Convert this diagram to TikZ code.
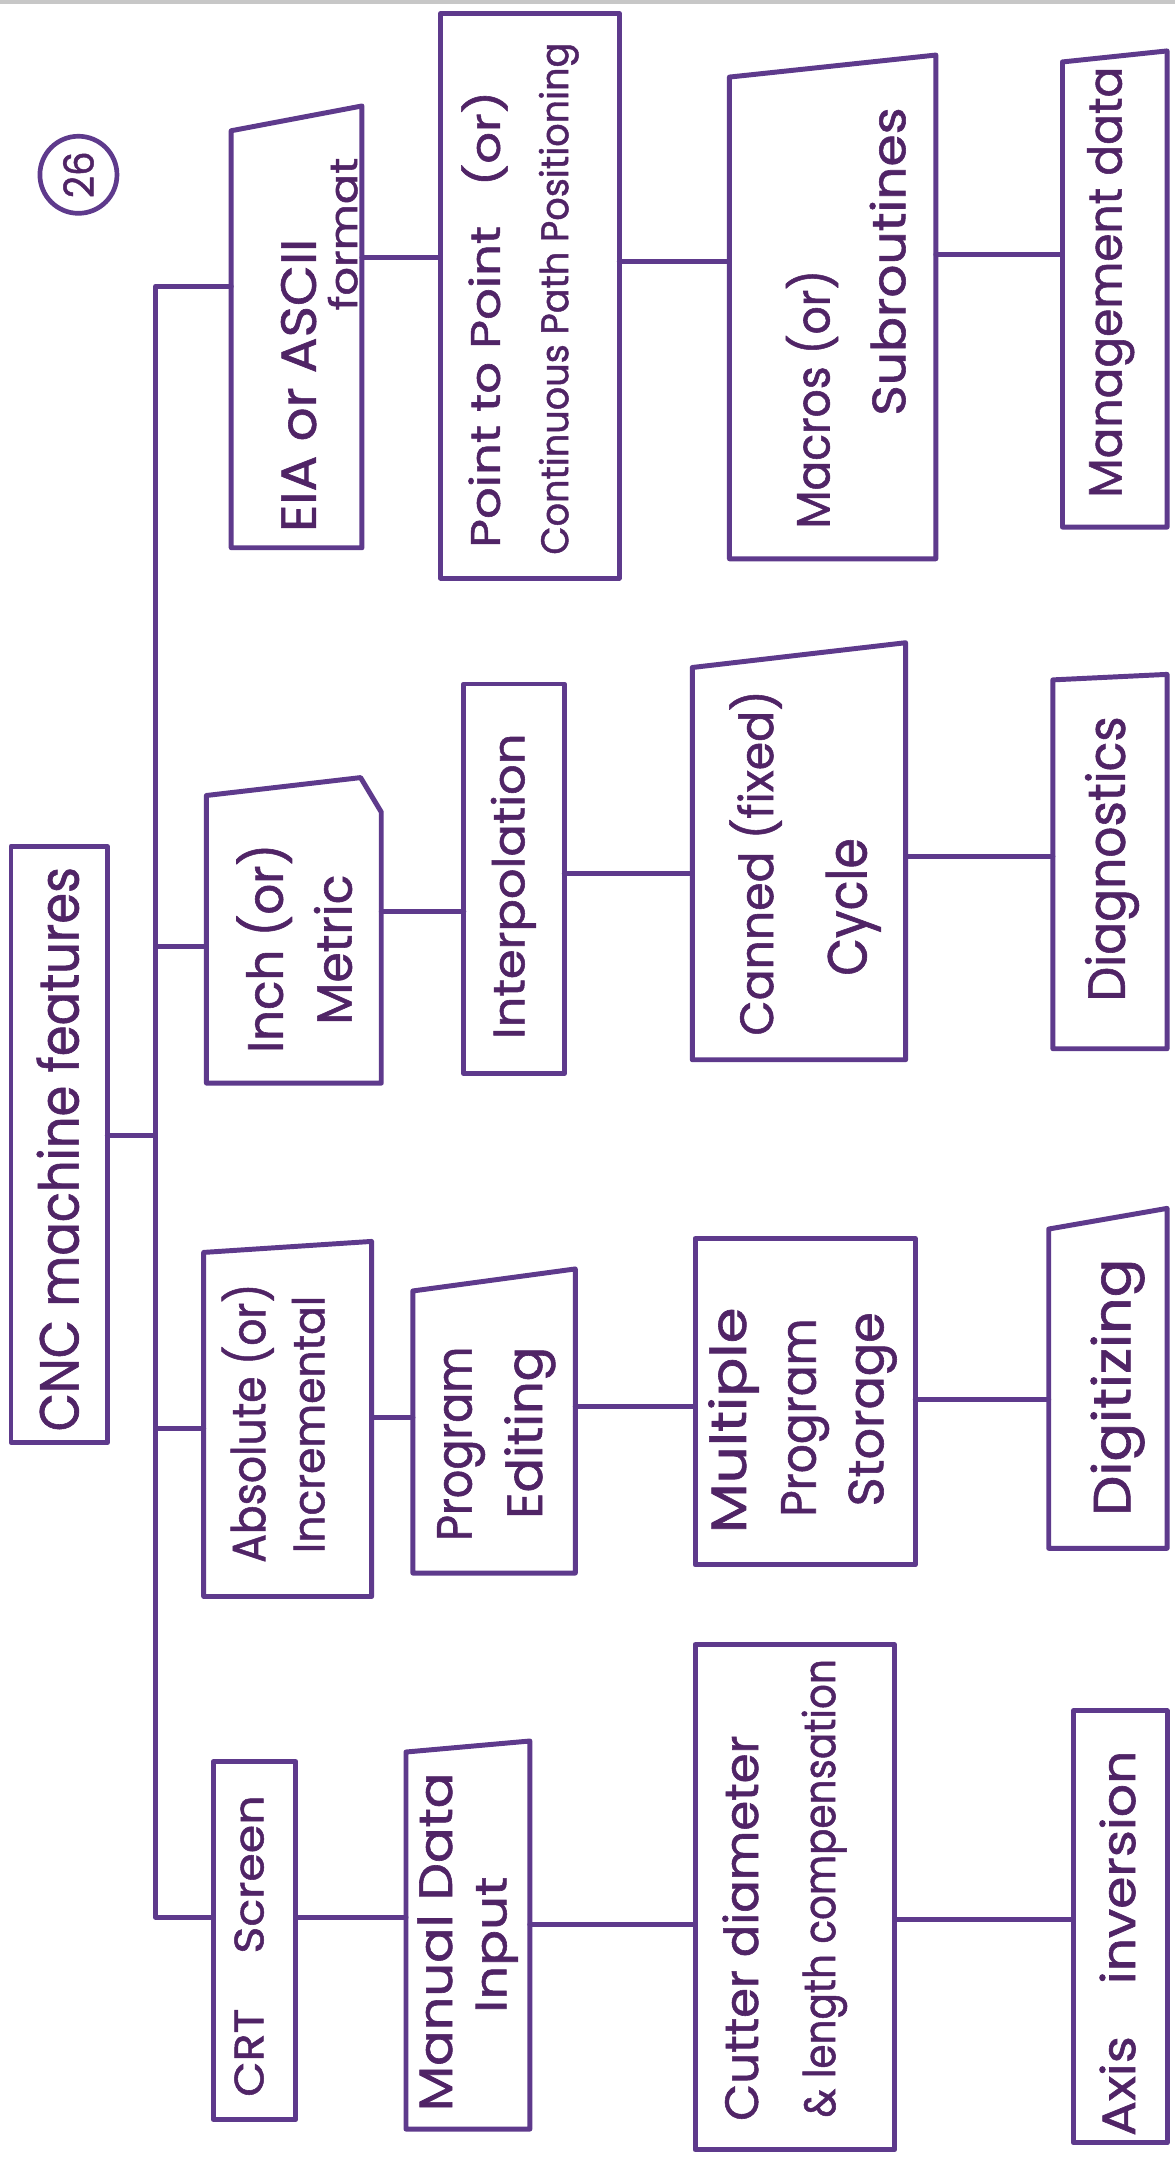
\documentclass[tikz,border=0pt]{standalone}
\usepackage{fontspec}
\setmainfont{Poppins}[FakeBold=1.2]
\usepackage{graphicx}
\usetikzlibrary{fit}
\definecolor{ink}{RGB}{94,58,140}
\definecolor{pen}{RGB}{80,36,102}
% text of a given size stretched to a given run length
\newcommand\hw[3][34]{\resizebox{#2pt}{\height}{\fontsize{#1}{#1}\selectfont #3}}
% box frame from its two corners
\newcommand\bx[5]{\node[frame, fit={(#2,#3) (#4,#5)}] (#1) {};}
% outline of a box, with the top corners dropped by #2 and #3
\newcommand\boxoutline[3]{\draw[ln] ([yshift=-#2pt]#1.north west) -- ([yshift=-#3pt]#1.north east) -- (#1.south east) -- (#1.south west) -- cycle;}
\tikzset{
  ln/.style={draw=ink, line width=3.6pt, line cap=round, line join=round},
  frame/.style={draw=none, inner sep=0pt, outer sep=0pt},
  txt/.style={text=pen, inner sep=0pt, rotate=90},
}
\begin{document}
\begin{tikzpicture}[x=1pt, y=-1pt]
\fill[white] (0,0) rectangle (854,1568);
\useasboundingbox (0,0) rectangle (854,1568);
\fill[black!22] (0,0) rectangle (854,3);

% page number
\node[circle, draw=ink, line width=3.4pt, minimum size=56pt, inner sep=0pt, text=pen, rotate=90] (pg) at (57,127) {\hw[30]{34}{26}};

% boxes
\bx{root}{8}{615}{78}{1048}
\bx{eia}{168}{77}{263}{398}
\bx{ptp}{320}{10}{450}{420}
\bx{mac}{530}{40}{680}{406}
\bx{mgt}{772}{37}{848}{383}
\bx{inch}{150}{565}{277}{787}
\bx{itp}{337}{497}{410}{780}
\bx{can}{503}{467}{658}{770}
\bx{dia}{765}{490}{848}{762}
\bx{abs}{148}{902}{270}{1160}
\bx{ped}{300}{922}{418}{1143}
\bx{mul}{505}{900}{665}{1137}
\bx{dig}{762}{878}{848}{1125}
\bx{crt}{155}{1280}{215}{1540}
\bx{man}{295}{1265}{385}{1547}
\bx{cut}{505}{1195}{650}{1562}
\bx{axi}{780}{1243}{848}{1557}

\boxoutline{root}{0}{0}
\boxoutline{eia}{18}{0}
\boxoutline{ptp}{0}{0}
\boxoutline{mac}{16}{0}
\boxoutline{mgt}{8}{0}
\draw[ln] ([yshift=-13pt]inch.north west) -- ([xshift=-15pt]inch.north east) -- ([yshift=-25pt]inch.north east) -- (inch.south east) -- (inch.south west) -- cycle;
\boxoutline{itp}{0}{0}
\boxoutline{can}{18}{0}
\boxoutline{dia}{4}{0}
\boxoutline{abs}{8}{0}
\boxoutline{ped}{16}{0}
\boxoutline{mul}{0}{0}
\boxoutline{dig}{15}{0}
\boxoutline{crt}{0}{0}
\boxoutline{man}{8}{0}
\boxoutline{cut}{0}{0}
\boxoutline{axi}{0}{0}

% spine and branches
\coordinate (sp-top) at (113,208);
\coordinate (sp-bot) at (113,1393);
\coordinate (j-root) at (113,825);
\coordinate (j-inch) at (113,688);
\coordinate (j-abs) at (113,1038);
\draw[ln] (eia.west |- sp-top) -- (sp-top) -- (sp-bot) -- (crt.west |- sp-bot);
\draw[ln] (root.east |- j-root) -- (j-root);
\draw[ln] (j-inch) -- (inch.west |- j-inch);
\draw[ln] (j-abs) -- (abs.west |- j-abs);

% links along each row
\coordinate (ya1) at (0,187);
\coordinate (ya2) at (0,190);
\coordinate (ya3) at (0,185);
\coordinate (yb1) at (0,662);
\coordinate (yb2) at (0,635);
\coordinate (yb3) at (0,622);
\coordinate (yc1) at (0,1030);
\coordinate (yc2) at (0,1022);
\coordinate (yc3) at (0,1017);
\coordinate (yd1) at (0,1393);
\coordinate (yd2) at (0,1398);
\coordinate (yd3) at (0,1395);
\draw[ln] (eia.east |- ya1) -- (ptp.west |- ya1);
\draw[ln] (ptp.east |- ya2) -- (mac.west |- ya2);
\draw[ln] (mac.east |- ya3) -- (mgt.west |- ya3);
\draw[ln] (inch.east |- yb1) -- (itp.west |- yb1);
\draw[ln] (itp.east |- yb2) -- (can.west |- yb2);
\draw[ln] (can.east |- yb3) -- (dia.west |- yb3);
\draw[ln] (abs.east |- yc1) -- (ped.west |- yc1);
\draw[ln] (ped.east |- yc2) -- (mul.west |- yc2);
\draw[ln] (mul.east |- yc3) -- (dig.west |- yc3);
\draw[ln] (crt.east |- yd1) -- (man.west |- yd1);
\draw[ln] (man.east |- yd2) -- (cut.west |- yd2);
\draw[ln] (cut.east |- yd3) -- (axi.west |- yd3);

% labels
\node[txt] (t-root) at (42,835) {\hw[40]{410}{CNC machine features}};
\node[txt] (t-eia1) at (217,280) {\hw[36]{213}{EIA or ASCII}};
\node[txt] (t-eia2) at (249,170) {\hw[28]{111}{format}};
\node[txt] (t-ptp1) at (352,232) {\hw[30]{332}{Point to Point\hspace{0.8em}(or)}};
\node[txt] (t-ptp2) at (406,217) {\hw[28]{372}{Continuous Path Positioning}};
\node[txt] (t-mac1) at (590,290) {\hw[34]{188}{Macros (or)}};
\node[txt] (t-mac2) at (645,190) {\hw[34]{224}{Subroutines}};
\node[txt] (t-mgt) at (807,205) {\hw[34]{313}{Management data}};
\node[txt] (t-inch1) at (192,689) {\hw[36]{152}{Inch (or)}};
\node[txt] (t-inch2) at (242,690) {\hw[36]{109}{Metric}};
\node[txt] (t-itp) at (373,644) {\hw[32]{222}{Interpolation}};
\node[txt] (t-can1) at (549,627) {\hw[34]{251}{Canned (fixed)}};
\node[txt] (t-can2) at (620,659) {\hw[40]{100}{Cycle}};
\node[txt] (t-dia) at (808,624) {\hw[38]{207}{Diagnostics}};
\node[txt] (t-abs1) at (180,1034) {\hw[34]{203}{Absolute (or)}};
\node[txt] (t-abs2) at (224,1035) {\hw[32]{187}{Incremental}};
\node[txt] (t-ped1) at (335,1049) {\hw[36]{141}{Program}};
\node[txt] (t-ped2) at (385,1041) {\hw[36]{125}{Editing}};
\node[txt] (t-mul1) at (533,1032) {\hw[36]{164}{Multiple}};
\node[txt] (t-mul2) at (585,1030) {\hw[36]{144}{Program}};
\node[txt] (t-mul3) at (634,1024) {\hw[36]{141}{Storage}};
\node[txt] (t-dig) at (812,1008) {\hw[38]{187}{Digitizing}};
\node[txt] (t-crt) at (181,1414) {\hw[30]{219}{CRT\hspace{1.2em}Screen}};
\node[txt] (t-man1) at (316,1411) {\hw[34]{246}{Manual Data}};
\node[txt] (t-man2) at (361,1413) {\hw[32]{99}{Input}};
\node[txt] (t-cut1) at (538,1401) {\hw[34]{280}{Cutter diameter}};
\node[txt] (t-cut2) at (599,1372) {\hw[32]{333}{\& length compensation}};
\node[txt] (t-axi) at (812,1412) {\hw[34]{280}{Axis\hspace{1em}inversion}};
\end{tikzpicture}
\end{document}
